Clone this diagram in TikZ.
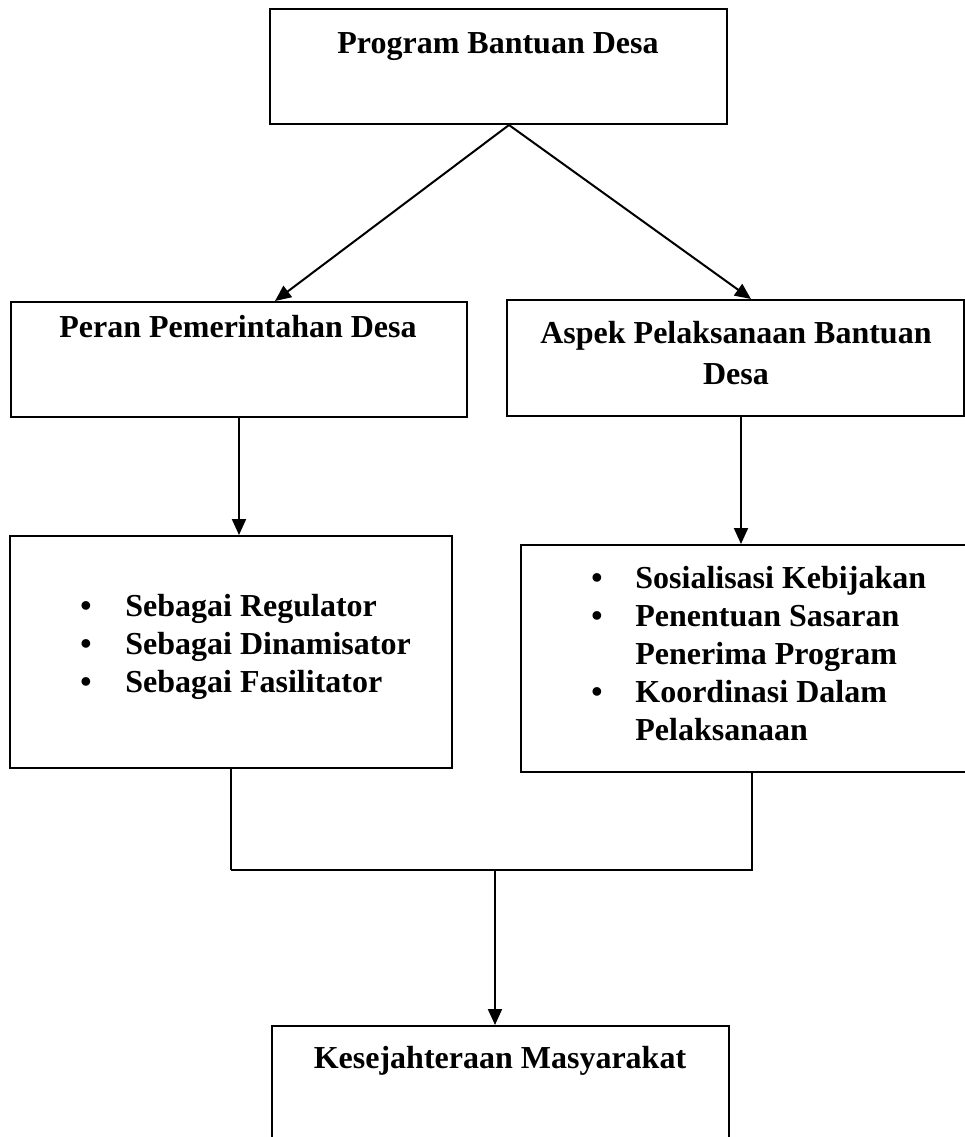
\documentclass[tikz,border=0pt]{standalone}
\usepackage{fontspec}
\setmainfont{Liberation Serif}
\usepackage{tikz}
\usetikzlibrary{arrows.meta, positioning, calc}

\begin{document}
\begin{tikzpicture}[
x=0.5pt, y=-0.5pt,
framebox/.style={
rectangle,
draw=black,
line width=1pt,
inner sep=0pt
},
headtext/.style={
anchor=north,
inner sep=0pt,
align=center,
font=\fontsize{16}{20.5}\selectfont\bfseries
},
listtext/.style={
anchor=north west,
inner sep=0pt,
font=\fontsize{16}{19}\selectfont\bfseries
},
link/.style={
line width=1pt,
-{Triangle[length=8pt,width=7pt]}
}
]

\clip (0,0) rectangle (965,1137);

\node[framebox, minimum width=228.5pt, minimum height=57.5pt] (prog) at (498.5,66.5) {};
\node[headtext] (progtext) at (498,32) {Program Bantuan Desa};

\node[framebox, minimum width=228pt, minimum height=57.5pt] (peran) at (239,359.5) {};
\node[headtext] (perantext) at (238,315) {Peran Pemerintahan Desa};

\node[framebox, minimum width=228.5pt, minimum height=58pt] (aspek) at (735.5,358) {};
\node[headtext] (aspektext) at (736,321) {Aspek Pelaksanaan Bantuan\\Desa};

\node[framebox, minimum width=221pt, minimum height=116pt] (regbox) at (231,652) {};
\node[listtext] (reglist) at (80,589)
{\begin{tabular}{@{}p{22.5pt}@{}l@{}}
\textbullet & Sebagai Regulator\\
\textbullet & Sebagai Dinamisator\\
\textbullet & Sebagai Fasilitator
\end{tabular}};

\node[framebox, minimum width=234.5pt, minimum height=113.5pt] (taskbox) at (755.5,658.5) {};
\node[listtext] (tasklist) at (591,561)
{\begin{tabular}{@{}p{22pt}@{}l@{}}
\textbullet & Sosialisasi Kebijakan\\
\textbullet & Penentuan Sasaran\\
 & Penerima Program\\
\textbullet & Koordinasi Dalam\\
 & Pelaksanaan
\end{tabular}};

\node[framebox, minimum width=228.5pt, minimum height=67pt] (welfare) at (500.5,1093) {};
\node[headtext] (welfaretext) at (500,1046) {Kesejahteraan Masyarakat};

% branches from the top box
\draw[link] ([xshift=5.25pt]prog.south) -- ([xshift=18pt]peran.north);
\draw[link] ([xshift=5.25pt]prog.south) -- ([xshift=7.75pt]aspek.north);

% down to the lists
\draw[link] (peran.south) -- (peran.south |- regbox.north);
\draw[link] ([xshift=2.75pt]aspek.south) -- ([xshift=2.75pt]aspek.south |- taskbox.north);

% joining both lists
\coordinate (merge) at (495,870);
\draw[line width=1.4pt] (regbox.south) -- (regbox.south |- merge);
\draw[line width=1pt] (regbox.south |- merge) -- ([xshift=-1.75pt]taskbox.south |- merge) -- ([xshift=-1.75pt]taskbox.south);
\draw[link] (merge) -- (merge |- welfare.north);

\end{tikzpicture}
\end{document}
